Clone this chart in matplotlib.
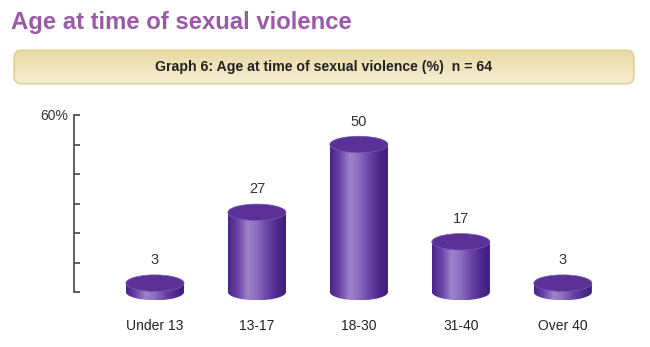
import numpy as np
import matplotlib
matplotlib.use('Agg')
import matplotlib.pyplot as plt
from matplotlib.patches import Ellipse, FancyBboxPatch, PathPatch
from matplotlib.path import Path
from matplotlib.colors import LinearSegmentedColormap

# ---------------------------------------------------------------------------
# Data
# ---------------------------------------------------------------------------
categories = ['Under 13', '13-17', '18-30', '31-40', 'Over 40']
values = [3, 27, 50, 17, 3]
value_labels = ['3', '27', '50', '17', '3']

TITLE = 'Age at time of sexual violence'
BANNER = 'Graph 6: Age at time of sexual violence (%)  n = 64'

plt.rcParams['font.family'] = ['Liberation Sans', 'DejaVu Sans']

W, H = 650, 347
fig = plt.figure(figsize=(W / 100, H / 100), dpi=100)
fig.patch.set_facecolor('white')

# ---------------------------------------------------------------------------
# Title and banner
# ---------------------------------------------------------------------------
fig.text(11 / W, 1 - 23 / H, TITLE, color='#9a5aa8', fontsize=17.2,
         fontweight='bold', ha='left', va='center')

bax = fig.add_axes([11 / W, 1 - 86 / H, 626 / W, 38 / H])
bax.set_xlim(0, 1)
bax.set_ylim(0, 1)
bax.axis('off')
banner_cmap = LinearSegmentedColormap.from_list('banner', ['#f6f0d8', '#e8d8a0'])
grad = np.linspace(0, 1, 64).reshape(-1, 1)
img = bax.imshow(grad, cmap=banner_cmap, extent=(0, 1, 0, 1), aspect='auto',
                 origin='lower', zorder=1)
box = FancyBboxPatch((0.005, 0.06), 0.99, 0.88,
                     boxstyle='round,pad=0,rounding_size=0.012',
                     mutation_aspect=16, transform=bax.transAxes,
                     fc='none', ec='#e3d08c', lw=1.2, zorder=2)
bax.add_patch(box)
img.set_clip_path(box)
bax.text(0.5, 0.5, BANNER, ha='center', va='center', fontsize=10.2,
         fontweight='bold', color='#222222', zorder=3)

# ---------------------------------------------------------------------------
# Cylinder chart
# ---------------------------------------------------------------------------
px_per_unit = 177 / 60
y_lo = -4
ax_bottom = 292 + (-y_lo) * px_per_unit
ax = fig.add_axes([74 / W, 1 - ax_bottom / H, (624 - 74) / W, (ax_bottom - 115) / H])
ax.set_xlim(-0.794, 4.6)
ax.set_ylim(y_lo, 60)

bar_w = 0.57
ell_h = 5.6
body_cmap = LinearSegmentedColormap.from_list(
    'body', ['#4a2486', '#6a45a8', '#9c84c9', '#8a6cbe', '#6a44a6', '#4f2a8e', '#3e1c78'])
hgrad = np.linspace(0, 1, 128).reshape(1, -1)

x = np.arange(len(categories))
t = np.linspace(np.pi, 2 * np.pi, 60)
for xi, v, lab in zip(x, values, value_labels):
    left, right = xi - bar_w / 2, xi + bar_w / 2
    # body outline: rectangle plus lower half of base ellipse
    verts = [(left, v), (left, 0)]
    verts += list(zip(xi + bar_w / 2 * np.cos(t), ell_h / 2 * np.sin(t)))
    verts += [(right, 0), (right, v), (left, v)]
    codes = [Path.MOVETO] + [Path.LINETO] * (len(verts) - 2) + [Path.CLOSEPOLY]
    clip = PathPatch(Path(verts, codes), transform=ax.transData, fc='none', ec='none')
    ax.add_patch(clip)
    body = ax.imshow(hgrad, cmap=body_cmap, extent=(left, right, -ell_h / 2, v),
                     aspect='auto', zorder=2)
    body.set_clip_path(clip)
    top = Ellipse((xi, v), bar_w, ell_h, fc='#5b3197', ec='#7a5bb2', lw=0.5,
                  zorder=3)
    ax.add_patch(top)
    ax.text(xi, v + ell_h / 2 + 2.6, lab, ha='center', va='bottom',
            fontsize=10.5, color='#333333')

ax.set_xlim(-0.794, 4.6)
ax.set_ylim(y_lo, 60)

ax.set_xticks(x)
ax.set_xticklabels(categories, fontsize=10, color='#222222')
ax.tick_params(axis='x', length=0, pad=11)

ax.set_yticks(np.arange(0, 61, 10))
ax.set_yticklabels(['', '', '', '', '', '', '60%'], fontsize=10, color='#333333')
ax.tick_params(axis='y', direction='in', length=4, width=1.2, color='#444444', pad=4)

for s in ['top', 'right', 'bottom']:
    ax.spines[s].set_visible(False)
ax.spines['left'].set_color('#444444')
ax.spines['left'].set_linewidth(1.2)
ax.spines['left'].set_bounds(0, 60)
ax.patch.set_alpha(0)

fig.savefig('out.png', dpi=100, facecolor='white')
